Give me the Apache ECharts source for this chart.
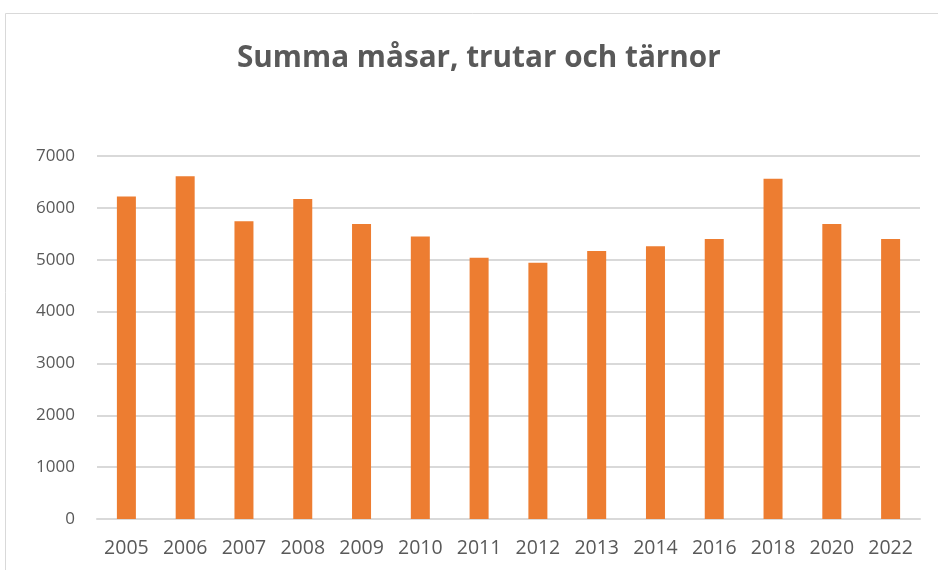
<!DOCTYPE html>
<html>
<head>
<meta charset="utf-8">
<script src="https://cdn.jsdelivr.net/npm/echarts@6/dist/echarts.min.js"></script>
<style>
  html, body { margin: 0; padding: 0; background: #fff; }
  #chart { width: 938px; height: 570px; }
</style>
</head>
<body>
<div id="chart"></div>
<script>
// years on the x axis
const years = ['2005', '2006', '2007', '2008', '2009', '2010', '2011', '2012', '2013', '2014', '2016', '2018', '2020', '2022']
// total gulls and terns per year
const totals = [6220, 6610, 5740, 6170, 5690, 5450, 5040, 4940, 5170, 5260, 5400, 6560, 5690, 5400]

const chart = echarts.init(document.getElementById('chart'))

const option = {
  animation: false,
  graphic: [
    {
      type: 'rect',
      shape: { x: 5.5, y: 13.5, width: 1000, height: 600 },
      style: { fill: 'none', stroke: '#d9d9d9', lineWidth: 1 },
      silent: true
    }
  ],
  title: {
    text: 'Summa måsar, trutar och tärnor',
    left: 232,
    top: 39,
    textStyle: {
      fontFamily: 'Open Sans',
      fontSize: 29.7,
      fontWeight: 'bold',
      color: '#595959'
    }
  },
  grid: {
    left: 97,
    right: 18,
    top: 156,
    bottom: 51
  },
  xAxis: {
    type: 'category',
    data: years,
    axisTick: { show: false },
    axisLine: { lineStyle: { color: '#d9d9d9', width: 2 } },
    axisLabel: {
      interval: 0,
      color: '#595959',
      fontFamily: 'Open Sans',
      fontSize: 19.5,
      margin: 19
    }
  },
  yAxis: {
    type: 'value',
    min: 0,
    max: 7000,
    interval: 1000,
    axisLine: { show: false },
    axisTick: { show: false },
    splitLine: { lineStyle: { color: '#d9d9d9', width: 2 } },
    axisLabel: {
      color: '#595959',
      fontFamily: 'Open Sans',
      fontSize: 17,
      margin: 22,
      formatter: (v) => String(v)
    }
  },
  series: [
    {
      type: 'bar',
      data: totals,
      barWidth: 19,
      itemStyle: { color: '#ed7d31' }
    }
  ]
}

chart.setOption(option)
</script>
</body>
</html>
